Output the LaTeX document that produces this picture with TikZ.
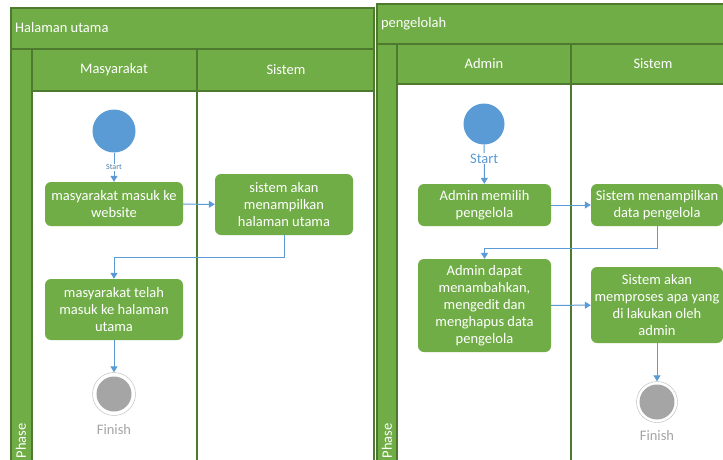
\documentclass[tikz,border=0pt]{standalone}
\usepackage{fontspec}
\setmainfont{Carlito}
\usepackage{tikz}
\usetikzlibrary{arrows.meta, positioning, calc}
\definecolor{lanegreen}{HTML}{70AD47}
\definecolor{laneline}{HTML}{4E7A2F}
\definecolor{flowblue}{HTML}{5B9BD5}
\definecolor{startgray}{HTML}{4F7FA8}
\definecolor{endgray}{HTML}{A5A5A5}

\begin{document}
\begin{tikzpicture}[x=1pt, y=-1pt,
    every node/.style={font=\fontsize{14.5}{17}\selectfont},
    lane/.style={draw=laneline, line width=1.2pt},
    lbl/.style={text=white},
    act/.style={rectangle, rounded corners=6pt, fill=lanegreen, text=white, align=center, inner sep=2pt},
    startnode/.style={circle, fill=flowblue, inner sep=0pt},
    finnode/.style={circle, draw=endgray!80, fill=white, inner sep=0pt,
        path picture={\fill[endgray] (path picture bounding box.center) circle (17.5pt);}},
    flow/.style={draw=flowblue, line width=1pt, -{Triangle[length=6pt, width=7pt]}},
]
    \useasboundingbox (0,0) rectangle (723,459);
    \clip (0,0) rectangle (723,459);

    % Panel: Halaman utama
    \fill[white] (11,8) rectangle (374,470);
    \fill[lanegreen] (11,8) rectangle (374,49);
    \fill[lanegreen] (11,49) rectangle (32,470);
    \fill[lanegreen] (32,49) rectangle (374,91);
    \draw[lane] (11,8) rectangle (374,470);
    \draw[lane] (11,49) -- (374,49);
    \draw[lane] (32,49) -- (32,470);
    \draw[lane] (32,91) -- (374,91);
    \draw[lane] (197,49) -- (197,470);

    \node[lbl, anchor=west] (ttl1) at (11.5,28) {Halaman utama};
    \node[lbl] (hd11) at (114,70) {Masyarakat};
    \node[lbl] (hd12) at (286,70) {Sistem};
    \node[lbl, rotate=90] (ph1) at (21,441) {Phase};

    % Panel: pengelolah
    \fill[white] (377,4) rectangle (745,470);
    \fill[lanegreen] (377,4) rectangle (745,44);
    \fill[lanegreen] (377,44) rectangle (397,470);
    \fill[lanegreen] (397,44) rectangle (745,84);
    \draw[lane] (377,4) rectangle (745,470);
    \draw[lane] (377,44) -- (745,44);
    \draw[lane] (397,44) -- (397,470);
    \draw[lane] (397,84) -- (745,84);
    \draw[lane] (571,44) -- (571,470);

    \node[lbl, anchor=west] (ttl2) at (377.5,24) {pengelolah};
    \node[lbl] (hd21) at (484,64) {Admin};
    \node[lbl] (hd22) at (653,64) {Sistem};
    \node[lbl, rotate=90] (ph2) at (387,441) {Phase};

    % Flow: Halaman utama
    \node[startnode, minimum size=43pt] (st1) at (114,131) {};
    \node[act, minimum width=138pt, minimum height=44pt] (m1) at (114,204) {masyarakat masuk ke\\website};
    \node[act, minimum width=138pt, minimum height=61pt] (m2) at (284,204.5) {sistem akan\\menampilkan\\halaman utama};
    \node[act, minimum width=138pt, minimum height=61pt] (m3) at (114,309.5) {masyarakat telah\\masuk ke halaman\\utama};
    \node[finnode, minimum size=43pt] (fn1) at (114,394) {};
    \node[text=endgray] (fl1) at (114,430) {Finish};

    \draw[flow] (st1) -- node[fill=white, text=startgray, inner sep=1pt, font=\fontsize{8}{9}\selectfont] {Start} (m1);
    \draw[flow] (m1) -- (m2);
    \draw[flow] (m2.south) -- ++(0,22) -| (m3.north);
    \draw[flow] (m3) -- (fn1);

    % Flow: pengelolah
    \node[startnode, minimum size=41pt] (st2) at (484,124) {};
    \node[act, minimum width=133pt, minimum height=42pt] (a1) at (484.5,205) {Admin memilih\\pengelola};
    \node[act, minimum width=132pt, minimum height=42pt] (s1) at (657,205) {Sistem menampilkan\\data pengelola};
    \node[act, minimum width=133pt, minimum height=93pt] (a2) at (484.5,305.5) {Admin dapat\\menambahkan,\\mengedit dan\\menghapus data\\pengelola};
    \node[act, minimum width=132pt, minimum height=76pt] (s2) at (657,305) {Sistem akan\\memproses apa yang\\di lakukan oleh\\admin};
    \node[finnode, minimum size=41pt] (fn2) at (657,402) {};
    \node[text=endgray] (fl2) at (657,436) {Finish};

    \draw[flow] (st2) -- node[pos=0.35, fill=white, text=flowblue, inner sep=1pt] {Start} (a1);
    \draw[flow] (a1) -- (s1);
    \draw[flow] (s1.south) -- ++(0,22) -| (a2.north);
    \draw[flow] (a2) -- (s2);
    \draw[flow] (s2) -- (fn2);
\end{tikzpicture}
\end{document}
